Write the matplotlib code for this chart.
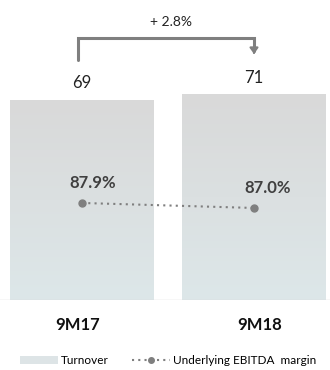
import numpy as np
import matplotlib
matplotlib.use("Agg")
import matplotlib.pyplot as plt
from matplotlib.patches import Patch
from matplotlib.lines import Line2D

periods = ["9M17", "9M18"]
turnover = [69, 71]
ebitda_margin = [87.9, 87.0]
growth_label = "+ 2.8%"

plt.rcParams['font.family'] = ['Lato', 'DejaVu Sans']

fig = plt.figure(figsize=(3.3, 3.7), dpi=100)
ax = fig.add_axes([0, 70 / 370, 1, 300 / 370])
x = np.arange(len(periods))

bars = ax.bar(x, turnover, width=0.837, color="none", edgecolor="none")
grad = np.linspace(0, 1, 256).reshape(-1, 1)
top_c = np.array([217, 217, 217]) / 255
bot_c = np.array([221, 231, 233]) / 255
img = top_c[None, None, :] * (1 - grad[:, :, None]) + bot_c[None, None, :] * grad[:, :, None]
for b in bars:
    x0, y0 = b.get_x(), b.get_y()
    w, h = b.get_width(), b.get_height()
    ax.imshow(img, extent=[x0, x0 + w, y0, y0 + h], aspect="auto", zorder=1)

ax.set_xlim(-0.477, 1.442)
ax.set_ylim(0, 103.5)
ax.axis("off")

# baseline
ax.axhline(0, color="#d9d9d9", lw=1, zorder=2)

for xi, v in zip(x, turnover):
    ax.text(xi, v + 5.7, str(v), ha="center", va="center", fontsize=12, color="#222222")

# growth bracket
ax.plot([x[0] - 0.025, x[0] - 0.025, x[1], x[1]], [82.8, 90.3, 90.3, 86.0],
        color="#7f7f7f", lw=2.2, solid_capstyle="round", solid_joinstyle="miter", clip_on=False)
ax.annotate("", xy=(x[1], 83.9), xytext=(x[1], 86.5),
            arrowprops=dict(arrowstyle="-|>,head_width=0.25,head_length=0.35", color="#7f7f7f", lw=1.5),
            annotation_clip=False)
ax.text(0.517, 95.9, growth_label, ha="center", va="center", fontsize=10, color="#222222")

# margin line on secondary axis
ax2 = ax.twinx()
ax2.set_ylim(70.45, 124.4)
ax2.axis("off")
ax2.plot(x, ebitda_margin, color="#7f7f7f", lw=1.5, ls=(0, (1, 2)), marker="o", ms=5, zorder=3)
for xi, v in zip(x, ebitda_margin):
    ax2.text(xi + (0.06 if xi == 0 else 0.08), v + 3.6, f"{v:.1f}%", ha="center", va="center",
             fontsize=12, fontweight="bold", color="#404040")

label_x = [78, 260]
for lx, p in zip(label_x, periods):
    fig.text(lx / 330, 1 - 325 / 370, p, ha="center", va="center",
             fontsize=12, fontweight="bold", color="#111111")

handles = [Patch(facecolor="#dde4e6", edgecolor="none", label="Turnover"),
           Line2D([0], [0], color="#7f7f7f", lw=1.5, ls=(0, (1, 2)), marker="o", ms=4,
                  markevery=[1], label="Underlying EBITDA  margin")]
handles[1].set_data([0, 0.5, 1], [0, 0, 0])
fig.legend(handles=handles, loc="upper left", bbox_to_anchor=(20 / 330, 1 - 355 / 370), ncol=2,
           frameon=False, fontsize=8.5, handlelength=3.2, handletextpad=0.25, columnspacing=2.0,
           borderaxespad=0, borderpad=0)

fig.savefig("out.png", dpi=100)
